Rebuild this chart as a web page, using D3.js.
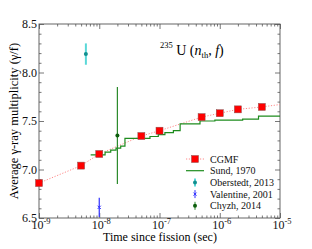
<!DOCTYPE html>
<html>
<head>
<meta charset="utf-8">
<script src="https://cdn.jsdelivr.net/npm/d3@7"></script>
<style>
  body { margin: 0; background: #fff; }
  svg { display: block; }
</style>
</head>
<body>
<svg id="chart"></svg>
<script>
// CGMF calculation
const cgmfTime = [1e-9, 5e-9, 1e-8, 5e-8, 1e-7, 5e-7, 1e-6, 2e-6, 5e-6];
const cgmfGamma = [6.86, 7.04, 7.16, 7.345, 7.40, 7.54, 7.58, 7.62, 7.645];
// dotted guide through the CGMF results
const fitTime = [1e-9, 5e-9, 1e-8, 5e-8, 1e-7, 5e-7, 1e-6, 2e-6, 5e-6, 1e-5];
const fitGamma = [6.86, 7.04, 7.16, 7.345, 7.40, 7.54, 7.58, 7.62, 7.645, 7.67];
// Sund, 1970 (step curve)
const sundTime = [7.2e-9, 1.25e-8, 1.55e-8, 1.9e-8, 2.27e-8, 2.67e-8, 6.95e-8, 9.55e-8, 1.23e-7, 1.7e-7, 2.2e-7, 4.7e-7, 8.3e-7, 2.4e-6, 4.4e-6, 1e-5];
const sundGamma = [7.15, 7.18, 7.20, 7.22, 7.24, 7.32, 7.34, 7.36, 7.38, 7.40, 7.47, 7.50, 7.51, 7.52, 7.55, 7.55];
// experiments
const oberTime = [6e-9], oberGamma = [8.19], oberErr = [0.11];
const valTime = [1e-8], valGamma = [6.61], valErr = [0.1];
const chyzhTime = [2e-8], chyzhGamma = [7.35], chyzhErr = [0.5];

const xTicks = [1e-9, 1e-8, 1e-7, 1e-6, 1e-5];
const xTickExp = ["-9", "-8", "-7", "-6", "-5"];
const yTicks = [6.5, 7.0, 7.5, 8.0, 8.5];

const width = 312, height = 249;
const mLeft = 39, mRight = 280, mTop = 24, mBottom = 218;

const svg = d3.select("#chart").attr("width", width).attr("height", height);

const x = d3.scaleLog().domain([1e-9, 1e-5]).range([mLeft, mRight]);
const y = d3.scaleLinear().domain([6.5, 8.5]).range([mBottom, mTop]);

const serif = "'Liberation Serif', 'Times New Roman', serif";
const frameColor = "#555";

// minor ticks
const xMinor = [];
for (let e = -9; e < -5; e++) for (let m = 2; m < 10; m++) xMinor.push(m * Math.pow(10, e));
const yMinor = d3.range(6.5, 8.501, 0.1).filter(v => Math.abs(v * 2 - Math.round(v * 2)) > 0.01);

function styleAxis(g) {
  g.select(".domain").remove();
  g.selectAll("line").attr("stroke", frameColor).attr("stroke-width", 0.8);
}

const axes = [
  [d3.axisBottom, x, xTicks, xMinor, `translate(0,${mBottom})`],
  [d3.axisTop, x, xTicks, xMinor, `translate(0,${mTop})`],
  [d3.axisLeft, y, yTicks, yMinor, `translate(${mLeft},0)`],
  [d3.axisRight, y, yTicks, yMinor, `translate(${mRight},0)`]
];
axes.forEach(([fn, sc, major, minor, tr]) => {
  svg.append("g").attr("transform", tr)
    .call(fn(sc).tickValues(major).tickSize(-5).tickFormat(""))
    .call(styleAxis);
  svg.append("g").attr("transform", tr)
    .call(fn(sc).tickValues(minor).tickSize(-2.5).tickFormat(""))
    .call(styleAxis);
});

svg.append("rect")
  .attr("x", mLeft).attr("y", mTop)
  .attr("width", mRight - mLeft).attr("height", mBottom - mTop)
  .attr("fill", "none").attr("stroke", frameColor).attr("stroke-width", 0.9);

// tick labels
const xl = svg.append("g").attr("font-family", serif).attr("font-size", 12).attr("fill", "#111");
xTicks.forEach((t, i) => {
  const txt = xl.append("text").attr("x", x(t) + 2).attr("y", mBottom + 10.5).attr("text-anchor", "middle");
  txt.append("tspan").text("10");
  txt.append("tspan").attr("font-size", 8.5).attr("dy", -5).text(xTickExp[i]);
});
svg.append("g").selectAll("text").data(yTicks).join("text")
  .attr("x", mLeft - 2).attr("y", d => y(d) + 4)
  .attr("text-anchor", "end")
  .attr("font-family", serif).attr("font-size", 12)
  .attr("fill", "#111")
  .text(d => d.toFixed(1));

// axis titles
svg.append("text")
  .attr("x", 160).attr("y", 241)
  .attr("text-anchor", "middle").attr("font-family", serif).attr("font-size", 12)
  .text("Time since fission (sec)");
svg.append("text")
  .attr("transform", `translate(18,${(mTop + mBottom) / 2}) rotate(-90)`)
  .attr("text-anchor", "middle").attr("font-family", serif).attr("font-size", 12.5)
  .text("Average γ-ray multiplicity (γ/f)");

// reaction label
const lab = svg.append("text").attr("x", 160).attr("y", 55)
  .attr("font-family", serif).attr("font-size", 14);
lab.append("tspan").attr("font-size", 8.5).attr("dy", -7).text("235");
lab.append("tspan").attr("dy", 7).text(" U (");
lab.append("tspan").attr("font-style", "italic").text("n");
lab.append("tspan").attr("font-size", 8.5).attr("dy", 3).text("th");
lab.append("tspan").attr("dy", -3).text(", ");
lab.append("tspan").attr("font-style", "italic").text("f");
lab.append("tspan").text(")");

const plot = svg.append("g");

// dotted CGMF guide
const fitLine = d3.line().x(d => x(d[0])).y(d => y(d[1]));
plot.append("path")
  .attr("d", fitLine(d3.zip(fitTime, fitGamma)))
  .attr("fill", "none").attr("stroke", "#ff8a8a").attr("stroke-width", 1)
  .attr("stroke-dasharray", "1.2,1.6");

// Sund step curve
const stepLine = d3.line().curve(d3.curveStepAfter).x(d => x(d[0])).y(d => y(d[1]));
plot.append("path")
  .attr("d", stepLine(d3.zip(sundTime, sundGamma)))
  .attr("fill", "none").attr("stroke", "#1e8c1e").attr("stroke-width", 1.2);

// error bars
function errorBars(times, vals, errs, barColor, barWidth) {
  plot.append("g").selectAll("line").data(d3.zip(times, vals, errs)).join("line")
    .attr("x1", d => x(d[0])).attr("x2", d => x(d[0]))
    .attr("y1", d => y(d[1] - d[2])).attr("y2", d => y(d[1] + d[2]))
    .attr("stroke", barColor).attr("stroke-width", barWidth);
}
errorBars(oberTime, oberGamma, oberErr, "#5ad8d8", 2);
errorBars(valTime, valGamma, valErr, "#3030ff", 1.2);
errorBars(chyzhTime, chyzhGamma, chyzhErr, "#2a8a2a", 1.2);

plot.append("g").selectAll("circle").data(d3.zip(oberTime, oberGamma)).join("circle")
  .attr("cx", d => x(d[0])).attr("cy", d => y(d[1])).attr("r", 2).attr("fill", "#119090");
plot.append("g").selectAll("path").data(d3.zip(valTime, valGamma)).join("path")
  .attr("d", d => `M${x(d[0]) - 1.6},${y(d[1]) - 1.6}L${x(d[0]) + 1.6},${y(d[1]) + 1.6}M${x(d[0]) - 1.6},${y(d[1]) + 1.6}L${x(d[0]) + 1.6},${y(d[1]) - 1.6}`)
  .attr("stroke", "#3030ff").attr("stroke-width", 1);
plot.append("g").selectAll("circle").data(d3.zip(chyzhTime, chyzhGamma)).join("circle")
  .attr("cx", d => x(d[0])).attr("cy", d => y(d[1])).attr("r", 2).attr("fill", "#0d5e0d");

// CGMF squares
const sq = 7;
plot.append("g").selectAll("rect").data(d3.zip(cgmfTime, cgmfGamma)).join("rect")
  .attr("x", d => x(d[0]) - sq / 2).attr("y", d => y(d[1]) - sq / 2)
  .attr("width", sq).attr("height", sq)
  .attr("fill", "#ff0000").attr("stroke", "#8a5050").attr("stroke-width", 0.5);

// legend
const lg = svg.append("g").attr("font-family", serif).attr("font-size", 10).attr("fill", "#111");
const lgX = 195, lgY = 159, lgStep = 11.7;
const rows = ["CGMF", "Sund, 1970", "Oberstedt, 2013", "Valentine, 2001", "Chyzh, 2014"];
rows.forEach((r, i) => {
  lg.append("text").attr("x", 210).attr("y", lgY + i * lgStep + 3.5).text(r);
});
lg.append("line").attr("x1", 186).attr("x2", 204).attr("y1", lgY).attr("y2", lgY)
  .attr("stroke", "#ff8a8a").attr("stroke-dasharray", "1.2,1.6");
lg.append("rect").attr("x", lgX - sq / 2).attr("y", lgY - sq / 2).attr("width", sq).attr("height", sq)
  .attr("fill", "#ff0000").attr("stroke", "#8a5050").attr("stroke-width", 0.5);
lg.append("line").attr("x1", 186).attr("x2", 204).attr("y1", lgY + lgStep).attr("y2", lgY + lgStep)
  .attr("stroke", "#1e8c1e").attr("stroke-width", 1.2);
[["#5ad8d8", 2, "#119090", "o"], ["#3030ff", 1, "#3030ff", "x"], ["#2a8a2a", 1, "#0d5e0d", "o"]].forEach((s, i) => {
  const cy = lgY + (i + 2) * lgStep;
  lg.append("line").attr("x1", lgX).attr("x2", lgX).attr("y1", cy - 4).attr("y2", cy + 4)
    .attr("stroke", s[0]).attr("stroke-width", s[1]);
  if (s[3] === "o") {
    lg.append("circle").attr("cx", lgX).attr("cy", cy).attr("r", 2).attr("fill", s[2]);
  } else {
    lg.append("path").attr("d", `M${lgX - 1.5},${cy - 1.5}L${lgX + 1.5},${cy + 1.5}M${lgX - 1.5},${cy + 1.5}L${lgX + 1.5},${cy - 1.5}`)
      .attr("stroke", s[2]).attr("stroke-width", 1);
  }
});
</script>
</body>
</html>
